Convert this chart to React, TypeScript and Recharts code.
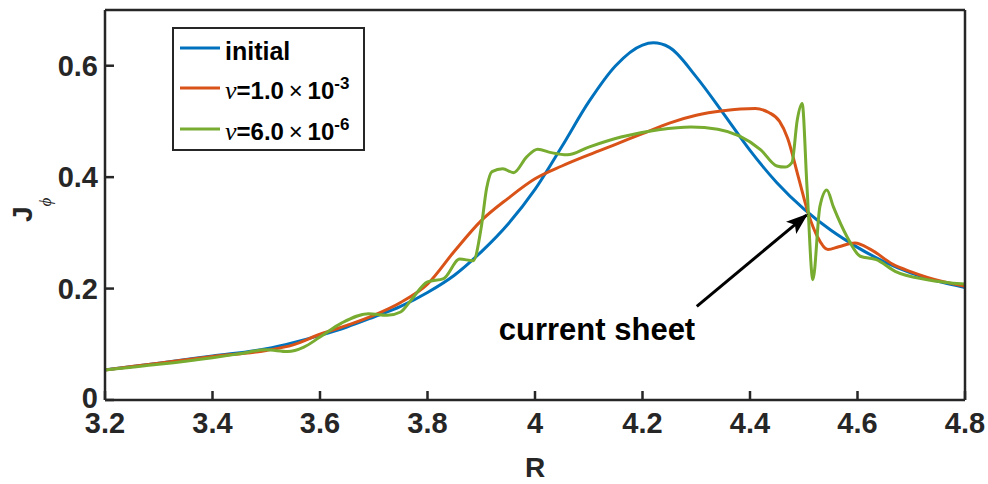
import { LineChart, Line, XAxis, YAxis, ReferenceLine } from 'recharts';

// initial profile
const initialR = [3.2, 3.3, 3.4, 3.5, 3.55, 3.6, 3.65, 3.7, 3.75, 3.8, 3.85, 3.9, 3.95, 4.0, 4.05, 4.1, 4.15, 4.2, 4.22, 4.25, 4.3, 4.35, 4.4, 4.45, 4.5, 4.55, 4.6, 4.65, 4.7, 4.75, 4.8];
const initialJ = [0.054, 0.066, 0.079, 0.092, 0.103, 0.116, 0.131, 0.149, 0.168, 0.193, 0.224, 0.266, 0.316, 0.378, 0.455, 0.535, 0.6, 0.637, 0.641, 0.633, 0.58, 0.515, 0.448, 0.39, 0.343, 0.305, 0.274, 0.248, 0.228, 0.213, 0.202];

// nu = 1.0e-3
const visc3R = [3.2, 3.3, 3.4, 3.5, 3.55, 3.6, 3.65, 3.7, 3.75, 3.8, 3.85, 3.9, 3.95, 4.0, 4.05, 4.1, 4.15, 4.2, 4.25, 4.3, 4.35, 4.41, 4.435, 4.455, 4.47, 4.49, 4.51, 4.525, 4.545, 4.565, 4.595, 4.625, 4.665, 4.7, 4.73, 4.8];
const visc3J = [0.054, 0.066, 0.078, 0.089, 0.099, 0.118, 0.134, 0.152, 0.175, 0.208, 0.267, 0.322, 0.362, 0.397, 0.42, 0.44, 0.459, 0.478, 0.497, 0.511, 0.519, 0.523, 0.516, 0.5, 0.47, 0.4, 0.33, 0.294, 0.27, 0.275, 0.282, 0.27, 0.244, 0.23, 0.22, 0.204];

// nu = 6.0e-6
const visc6R = [3.2, 3.3, 3.4, 3.45, 3.5, 3.54, 3.57, 3.6, 3.64, 3.69, 3.725, 3.75, 3.77, 3.8, 3.83, 3.86, 3.885, 3.9, 3.91, 3.92, 3.94, 3.96, 3.985, 4.005, 4.03, 4.06, 4.1, 4.16, 4.23, 4.29, 4.34, 4.38, 4.42, 4.45, 4.465, 4.478, 4.488, 4.497, 4.506, 4.517, 4.53, 4.543, 4.555, 4.58, 4.605, 4.635, 4.67, 4.73, 4.8];
const visc6J = [0.054, 0.064, 0.076, 0.083, 0.09, 0.087, 0.095, 0.113, 0.138, 0.155, 0.152, 0.158, 0.18, 0.212, 0.218, 0.253, 0.25, 0.31, 0.38, 0.41, 0.415, 0.408, 0.437, 0.45, 0.444, 0.44, 0.454, 0.472, 0.485, 0.49, 0.486, 0.474, 0.449, 0.42, 0.418, 0.426, 0.503, 0.532, 0.383, 0.216, 0.347, 0.377, 0.347, 0.294, 0.258, 0.252, 0.231, 0.216, 0.208];

const xTicks = [3.2, 3.4, 3.6, 3.8, 4.0, 4.2, 4.4, 4.6, 4.8];
const yTicks = [0, 0.2, 0.4, 0.6];

const toPoints = (r: number[], j: number[]) => r.map((x, i) => ({ r: x, j: j[i] }));

const AXIS = '#262626';
const FONT = '"Liberation Sans", Arial, sans-serif';
const SERIF = '"Liberation Serif", "DejaVu Serif", serif';
const BLUE = '#0072BD';
const ORANGE = '#D95319';
const GREEN = '#77AC30';

const TICK_MARGIN = 6;
const TICK_LEN = 9;
const TICK_FONT = 29;

const fmtX = (v: number) => (v === 4 ? '4' : v.toFixed(1));
const fmtY = (v: number) => (v === 0 ? '0' : v.toFixed(1));

// MATLAB-style inward ticks, drawn by hand so the labels stay outside
const BottomTick = ({ x, y, payload }: any) => {
  const axisY = y - TICK_MARGIN;
  return (
    <g>
      <line x1={x} x2={x} y1={axisY} y2={axisY - TICK_LEN} stroke={AXIS} strokeWidth={2.5} />
      <text x={x} y={axisY + 33} textAnchor="middle" fontFamily={FONT} fontWeight="bold" fontSize={TICK_FONT} fill={AXIS}>
        {fmtX(payload.value)}
      </text>
    </g>
  );
};

const LeftTick = ({ x, y, payload }: any) => {
  const axisX = x + TICK_MARGIN;
  // the zero label sits a touch higher so it clears the first x label
  const dy = payload.value === 0 ? 8 : 10;
  return (
    <g>
      <line x1={axisX} x2={axisX + TICK_LEN} y1={y} y2={y} stroke={AXIS} strokeWidth={2.5} />
      <text x={axisX - 7} y={y + dy} textAnchor="end" fontFamily={FONT} fontWeight="bold" fontSize={TICK_FONT} fill={AXIS}>
        {fmtY(payload.value)}
      </text>
    </g>
  );
};

const TopTick = ({ x, y }: any) => {
  const axisY = y + TICK_MARGIN;
  return <line x1={x} x2={x} y1={axisY} y2={axisY + TICK_LEN} stroke={AXIS} strokeWidth={2.5} />;
};

const RightTick = ({ x, y }: any) => {
  const axisX = x - TICK_MARGIN;
  return <line x1={axisX} x2={axisX - TICK_LEN} y1={y} y2={y} stroke={AXIS} strokeWidth={2.5} />;
};

const Arrow = ({ x1, y1, x2, y2 }: any) => (
  <line x1={x1} y1={y1} x2={x2} y2={y2} stroke="#000" strokeWidth={3} markerEnd="url(#arrowHead)" />
);

const legendRows = [
  { color: BLUE, y: 48 },
  { color: ORANGE, y: 88 },
  { color: GREEN, y: 129 },
];

export default function App() {
  const axisLine = { stroke: AXIS, strokeWidth: 2.5 };
  return (
    <div style={{ position: 'absolute', left: 0, top: 0, width: 988, height: 484, background: '#fff' }}>
      <svg width={0} height={0} style={{ position: 'absolute' }}>
        <defs>
          <marker id="arrowHead" markerUnits="userSpaceOnUse" markerWidth={24} markerHeight={18} refX={20} refY={8} orient="auto">
            <path d="M0,0 L22,8 L0,16 L5,8 Z" fill="#000" />
          </marker>
        </defs>
      </svg>
      <LineChart width={988} height={484} margin={{ top: 9, right: 22, bottom: 0, left: 0 }}>
        <XAxis
          dataKey="r"
          type="number"
          domain={[3.2, 4.8]}
          ticks={xTicks}
          allowDataOverflow
          height={84}
          tickSize={0}
          tickMargin={TICK_MARGIN}
          tickLine={false}
          axisLine={axisLine}
          tick={<BottomTick />}
        />
        <XAxis
          xAxisId="top"
          orientation="top"
          dataKey="r"
          type="number"
          domain={[3.2, 4.8]}
          ticks={xTicks}
          height={1}
          tickSize={0}
          tickMargin={TICK_MARGIN}
          tickLine={false}
          axisLine={axisLine}
          tick={<TopTick />}
        />
        <YAxis
          type="number"
          domain={[0, 0.7]}
          ticks={yTicks}
          allowDataOverflow
          width={105}
          tickSize={0}
          tickMargin={TICK_MARGIN}
          tickLine={false}
          axisLine={axisLine}
          tick={<LeftTick />}
        />
        <YAxis
          yAxisId="right"
          orientation="right"
          type="number"
          domain={[0, 0.7]}
          ticks={yTicks}
          width={1}
          tickSize={0}
          tickMargin={TICK_MARGIN}
          tickLine={false}
          axisLine={axisLine}
          tick={<RightTick />}
        />
        <Line data={toPoints(initialR, initialJ)} dataKey="j" type="monotone" stroke={BLUE} strokeWidth={3} dot={false} isAnimationActive={false} />
        <Line data={toPoints(visc3R, visc3J)} dataKey="j" type="monotone" stroke={ORANGE} strokeWidth={3} dot={false} isAnimationActive={false} />
        <Line data={toPoints(visc6R, visc6J)} dataKey="j" type="monotone" stroke={GREEN} strokeWidth={3} dot={false} isAnimationActive={false} />
        <ReferenceLine
          segment={[{ x: 4.301, y: 0.168 }, { x: 4.505, y: 0.332 }]}
          shape={<Arrow />}
          ifOverflow="visible"
        />
      </LineChart>
      <svg width={988} height={484} style={{ position: 'absolute', left: 0, top: 0, pointerEvents: 'none' }}>
        {/* y label: J with phi subscript */}
        <text transform="translate(32,222) rotate(-90)" fontFamily={FONT} fontWeight="bold" fontSize={28} fill={AXIS}>
          <tspan>J</tspan>
          <tspan fontFamily={SERIF} fontStyle="italic" fontWeight="normal" fontSize={17} dy={19}>ϕ</tspan>
        </text>
        <text x={535} y={477} textAnchor="middle" fontFamily={FONT} fontWeight="bold" fontSize={28} fill={AXIS}>R</text>
        <text x={597} y={340} textAnchor="middle" fontFamily={FONT} fontWeight="bold" fontSize={31} fill="#000">current sheet</text>

        {/* legend */}
        <rect x={173} y={28} width={191} height={122} fill="#fff" stroke={AXIS} strokeWidth={2} />
        {legendRows.map((row) => (
          <line key={row.color} x1={180} x2={220} y1={row.y} y2={row.y} stroke={row.color} strokeWidth={3} />
        ))}
        <text x={225} y={60} fontFamily={FONT} fontWeight="bold" fontSize={25} fill="#000">initial</text>
        <text x={225} y={99} fontFamily={FONT} fontWeight="bold" fontSize={24} fill="#000">
          <tspan fontFamily={SERIF} fontStyle="italic" fontWeight="normal" fontSize={26}>ν</tspan>
          <tspan>=1.0</tspan>
          <tspan fontWeight="normal">{'\u2009×\u2009'}</tspan>
          <tspan>10</tspan>
          <tspan fontSize={17} dy={-10}>-3</tspan>
        </text>
        <text x={225} y={140} fontFamily={FONT} fontWeight="bold" fontSize={24} fill="#000">
          <tspan fontFamily={SERIF} fontStyle="italic" fontWeight="normal" fontSize={26}>ν</tspan>
          <tspan>=6.0</tspan>
          <tspan fontWeight="normal">{'\u2009×\u2009'}</tspan>
          <tspan>10</tspan>
          <tspan fontSize={17} dy={-10}>-6</tspan>
        </text>
      </svg>
    </div>
  );
}
